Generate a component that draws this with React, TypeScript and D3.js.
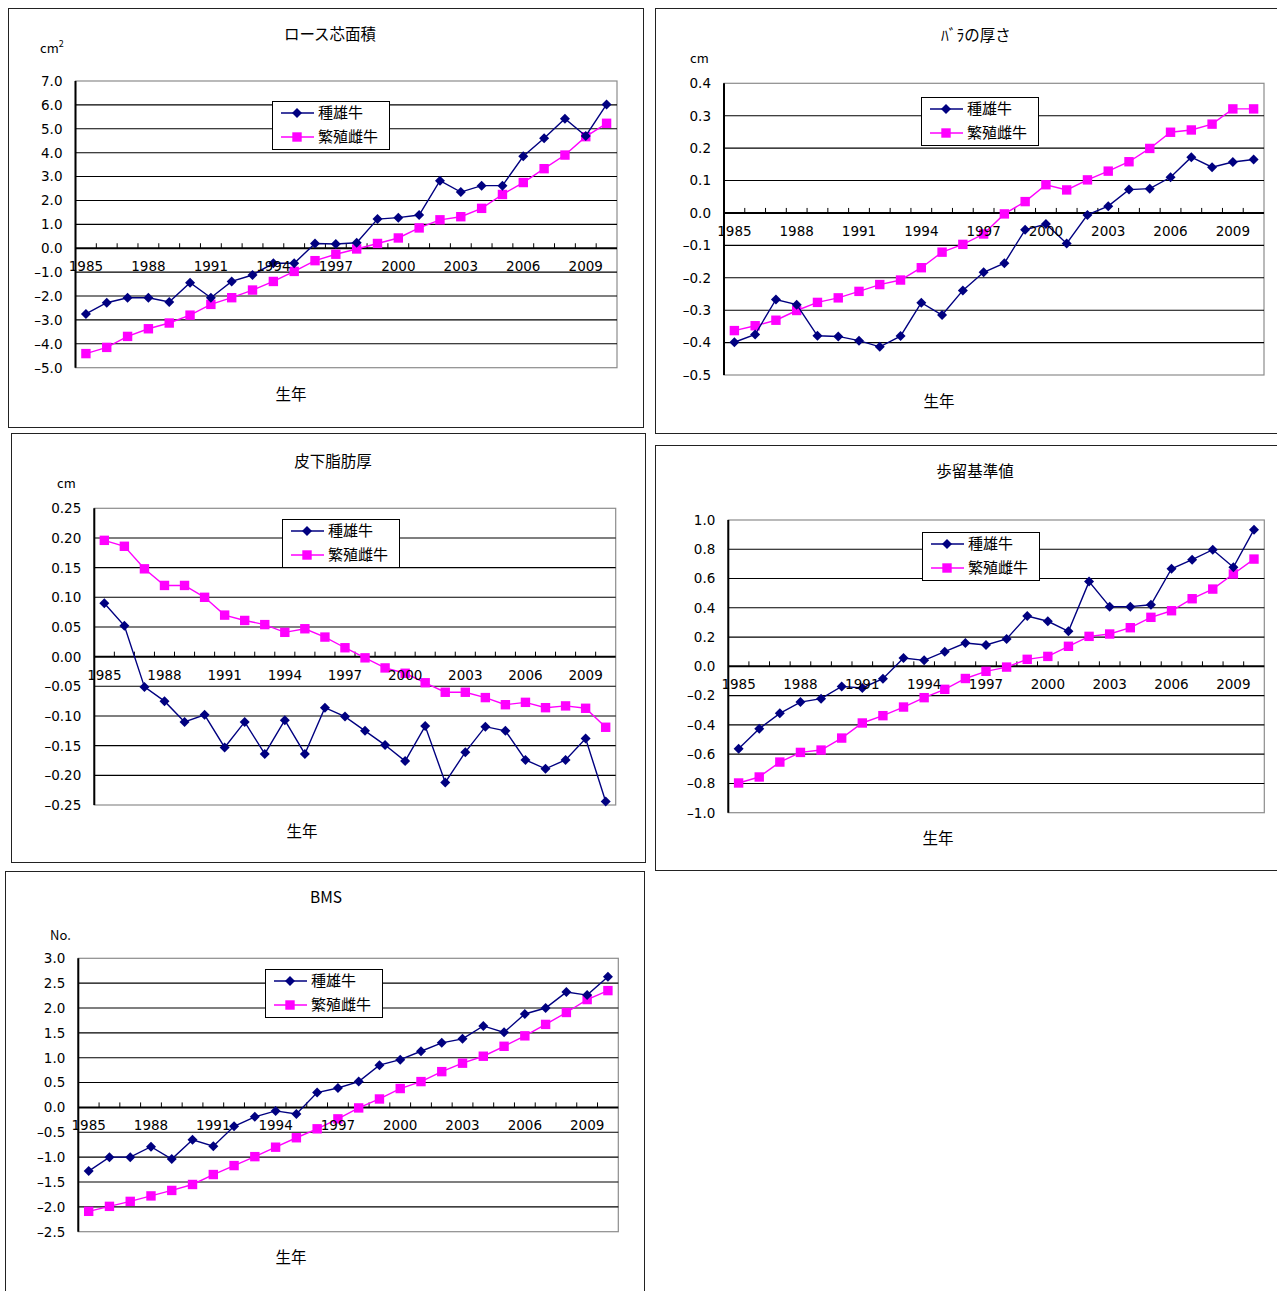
import React from 'react';
import * as d3 from 'd3';

const years = [
  1985, 1986, 1987, 1988, 1989, 1990, 1991, 1992, 1993, 1994, 1995, 1996, 1997,
  1998, 1999, 2000, 2001, 2002, 2003, 2004, 2005, 2006, 2007, 2008, 2009, 2010,
];
const yearLabels = [1985, 1988, 1991, 1994, 1997, 2000, 2003, 2006, 2009];
const seriesNames = ['種雄牛', '繁殖雌牛'];

// ロース芯面積
const loinBull = [-2.75, -2.28, -2.07, -2.07, -2.25, -1.44, -2.07, -1.39, -1.12, -0.63, -0.63, 0.2, 0.18, 0.23, 1.22, 1.28, 1.39, 2.83, 2.35, 2.62, 2.62, 3.85, 4.6, 5.42, 4.7, 6.02];
const loinCow = [-4.41, -4.15, -3.69, -3.37, -3.13, -2.8, -2.35, -2.07, -1.75, -1.39, -0.97, -0.52, -0.25, -0.03, 0.2, 0.43, 0.85, 1.19, 1.32, 1.67, 2.25, 2.75, 3.33, 3.9, 4.67, 5.23];

// バラの厚さ
const ribBull = [-0.399, -0.375, -0.267, -0.283, -0.379, -0.381, -0.394, -0.413, -0.38, -0.277, -0.315, -0.239, -0.183, -0.155, -0.052, -0.034, -0.094, -0.006, 0.021, 0.072, 0.075, 0.11, 0.172, 0.141, 0.157, 0.165];
const ribCow = [-0.363, -0.348, -0.331, -0.301, -0.276, -0.262, -0.242, -0.221, -0.207, -0.169, -0.121, -0.097, -0.065, -0.003, 0.035, 0.087, 0.071, 0.102, 0.129, 0.158, 0.199, 0.249, 0.256, 0.274, 0.321, 0.321];

// 皮下脂肪厚
const fatBull = [0.09, 0.052, -0.051, -0.075, -0.11, -0.098, -0.153, -0.11, -0.164, -0.107, -0.164, -0.086, -0.101, -0.125, -0.149, -0.176, -0.117, -0.212, -0.161, -0.118, -0.125, -0.174, -0.189, -0.174, -0.138, -0.244];
const fatCow = [0.196, 0.186, 0.148, 0.12, 0.12, 0.1, 0.07, 0.061, 0.054, 0.041, 0.047, 0.033, 0.015, -0.002, -0.019, -0.028, -0.044, -0.06, -0.06, -0.069, -0.081, -0.077, -0.086, -0.083, -0.087, -0.119];

// 歩留基準値
const yieldBull = [-0.563, -0.426, -0.321, -0.244, -0.221, -0.137, -0.148, -0.084, 0.057, 0.041, 0.1, 0.159, 0.146, 0.187, 0.344, 0.308, 0.239, 0.579, 0.408, 0.408, 0.421, 0.667, 0.729, 0.797, 0.677, 0.934];
const yieldCow = [-0.797, -0.756, -0.654, -0.588, -0.572, -0.49, -0.387, -0.337, -0.278, -0.214, -0.157, -0.083, -0.034, -0.005, 0.048, 0.068, 0.137, 0.205, 0.221, 0.264, 0.335, 0.38, 0.462, 0.528, 0.631, 0.733];

// BMS
const bmsBull = [-1.28, -1.0, -1.0, -0.79, -1.04, -0.65, -0.78, -0.38, -0.19, -0.07, -0.13, 0.3, 0.39, 0.52, 0.85, 0.96, 1.13, 1.3, 1.38, 1.64, 1.51, 1.88, 2.0, 2.32, 2.26, 2.63];
const bmsCow = [-2.09, -1.99, -1.89, -1.78, -1.67, -1.55, -1.35, -1.17, -0.99, -0.8, -0.61, -0.43, -0.23, -0.01, 0.17, 0.38, 0.52, 0.72, 0.89, 1.03, 1.23, 1.44, 1.67, 1.91, 2.17, 2.35];

const FONT = '"Noto Sans CJK JP", "Noto Sans", sans-serif';
const NUM_FONT = '"DejaVu Sans", sans-serif';
const BULL = '#000080';
const COW = '#FF00FF';

interface ChartCfg {
  frame: [number, number, number, number];
  plot: { x0: number; x1: number; y0: number; y1: number };
  domain: [number, number];
  step: number;
  fmt: string;
  title: string;
  titlePos: [number, number];
  unit?: string;
  unitSup?: string;
  unitPos?: [number, number];
  xTitlePos: [number, number];
  legend: [number, number];
  bull: number[];
  cow: number[];
}

const charts: ChartCfg[] = [
  {
    frame: [8, 8, 643, 427],
    plot: { x0: 75.5, x1: 617, y0: 81, y1: 367.7 },
    domain: [-5, 7], step: 1, fmt: '.1f',
    title: 'ロース芯面積', titlePos: [330, 35],
    unit: 'cm', unitSup: '2', unitPos: [40, 53],
    xTitlePos: [291, 395], legend: [272, 101],
    bull: loinBull, cow: loinCow,
  },
  {
    frame: [655, 8, 1290, 433],
    plot: { x0: 724, x1: 1264, y0: 83.3, y1: 375 },
    domain: [-0.5, 0.4], step: 0.1, fmt: '.1f',
    title: 'ﾊﾞﾗの厚さ', titlePos: [976, 36],
    unit: 'cm', unitPos: [690, 63],
    xTitlePos: [939, 402], legend: [921, 97],
    bull: ribBull, cow: ribCow,
  },
  {
    frame: [11, 433, 645, 862],
    plot: { x0: 94.3, x1: 615.7, y0: 508.3, y1: 805 },
    domain: [-0.25, 0.25], step: 0.05, fmt: '.2f',
    title: '皮下脂肪厚', titlePos: [333, 462],
    unit: 'cm', unitPos: [57, 488],
    xTitlePos: [302, 832], legend: [282, 519],
    bull: fatBull, cow: fatCow,
  },
  {
    frame: [655, 445, 1290, 870],
    plot: { x0: 728.3, x1: 1264.3, y0: 520, y1: 812.7 },
    domain: [-1, 1], step: 0.2, fmt: '.1f',
    title: '歩留基準値', titlePos: [975, 472],
    xTitlePos: [938, 839], legend: [922, 532],
    bull: yieldBull, cow: yieldCow,
  },
  {
    frame: [5, 871, 644, 1300],
    plot: { x0: 78.3, x1: 618.3, y0: 958.3, y1: 1231.7 },
    domain: [-2.5, 3], step: 0.5, fmt: '.1f',
    title: 'BMS', titlePos: [326, 898],
    unit: 'No.', unitPos: [50, 940],
    xTitlePos: [291, 1258], legend: [265, 969],
    bull: bmsBull, cow: bmsCow,
  },
];

const diamond = (x: number, y: number, r: number) =>
  `M${x},${y - r}L${x + r},${y}L${x},${y + r}L${x - r},${y}Z`;

function LineChart({ c }: { c: ChartCfg }) {
  const { plot } = c;
  const x = d3.scaleBand<number>().domain(years).range([plot.x0, plot.x1]).padding(0);
  const y = d3.scaleLinear().domain(c.domain).range([plot.y1, plot.y0]);
  const cx = (yr: number) => (x(yr) as number) + x.bandwidth() / 2;
  const n = Math.round((c.domain[1] - c.domain[0]) / c.step);
  const ticks = d3.range(n + 1).map((i) => +(c.domain[0] + i * c.step).toFixed(4));
  const fmt = d3.format(c.fmt);
  const label = (t: number) => fmt(t).replace('−', '–');
  const line = d3.line<number>().x((_, i) => cx(years[i])).y((v) => y(v));
  const y0 = y(0);
  const [lx, ly] = c.legend;

  return (
    <g>
      <rect x={c.frame[0] + 0.5} y={c.frame[1] + 0.5} width={c.frame[2] - c.frame[0]} height={c.frame[3] - c.frame[1]}
        fill="#fff" stroke="#222" strokeWidth={1} />
      <text x={c.titlePos[0]} y={c.titlePos[1]} dy="0.35em" textAnchor="middle" fontSize={15.5} fontFamily={FONT} fill="#000">{c.title}</text>
      {c.unit && c.unitPos && (
        <text x={c.unitPos[0]} y={c.unitPos[1]} fontSize={13} fontFamily={FONT} fill="#000">
          {c.unit}
          {c.unitSup && <tspan dy={-6} fontSize={9}>{c.unitSup}</tspan>}
        </text>
      )}
      <text x={c.xTitlePos[0]} y={c.xTitlePos[1]} dy="0.35em" textAnchor="middle" fontSize={15.5} fontFamily={FONT} fill="#000">生年</text>

      <rect x={plot.x0} y={plot.y0} width={plot.x1 - plot.x0} height={plot.y1 - plot.y0} fill="#fff" stroke="#8c8c8c" strokeWidth={1.2} />
      {ticks.filter((t) => t !== 0 && t !== c.domain[0] && t !== c.domain[1]).map((t) => (
        <line key={t} x1={plot.x0} x2={plot.x1} y1={y(t)} y2={y(t)} stroke="#000" strokeWidth={1.1} />
      ))}
      {ticks.map((t) => (
        <text key={'l' + t} x={plot.x0 - 13} y={y(t)} dy="0.36em" textAnchor="end" fontSize={13.5} fontFamily={NUM_FONT} fill="#000">
          {label(t)}
        </text>
      ))}
      <line x1={plot.x0} x2={plot.x0} y1={plot.y0} y2={plot.y1} stroke="#000" strokeWidth={2} />
      <line x1={plot.x0} x2={plot.x1} y1={y0} y2={y0} stroke="#000" strokeWidth={2} />
      {years.slice(1).map((yr) => (
        <line key={'t' + yr} x1={x(yr)} x2={x(yr)} y1={y0} y2={y0 - 5} stroke="#000" strokeWidth={1} />
      ))}

      <path d={line(c.cow) || ''} fill="none" stroke={COW} strokeWidth={1.4} />
      {c.cow.map((v, i) => (
        <rect key={'c' + i} x={cx(years[i]) - 4.7} y={y(v) - 4.7} width={9.4} height={9.4} fill={COW} />
      ))}
      <path d={line(c.bull) || ''} fill="none" stroke={BULL} strokeWidth={1.4} />
      {c.bull.map((v, i) => (
        <path key={'b' + i} d={diamond(cx(years[i]), y(v), 5)} fill={BULL} />
      ))}

      {yearLabels.map((yr) => (
        <text key={'x' + yr} x={cx(yr)} y={y0 + 18} dy="0.36em" textAnchor="middle" fontSize={13.5} fontFamily={NUM_FONT} fill="#000">
          {yr}
        </text>
      ))}

      <rect x={lx + 0.5} y={ly + 0.5} width={117} height={48} fill="#fff" stroke="#000" strokeWidth={1} />
      {seriesNames.map((name, i) => {
        const iy = ly + 12 + i * 24;
        return (
          <g key={name}>
            <line x1={lx + 9} x2={lx + 42} y1={iy} y2={iy} stroke={i === 0 ? BULL : COW} strokeWidth={1.4} />
            {i === 0 ? (
              <path d={diamond(lx + 25, iy, 5)} fill={BULL} />
            ) : (
              <rect x={lx + 25 - 4.7} y={iy - 4.7} width={9.4} height={9.4} fill={COW} />
            )}
            <text x={lx + 46} y={iy} dy="0.36em" fontSize={15} fontFamily={FONT} fill="#000">{name}</text>
          </g>
        );
      })}
    </g>
  );
}

export default function App() {
  return (
    <div style={{ position: 'absolute', left: 0, top: 0 }}>
      <svg width={1277} height={1291} style={{ display: 'block', background: '#fff' }}>
        {charts.map((c) => (
          <LineChart key={c.title} c={c} />
        ))}
      </svg>
    </div>
  );
}
